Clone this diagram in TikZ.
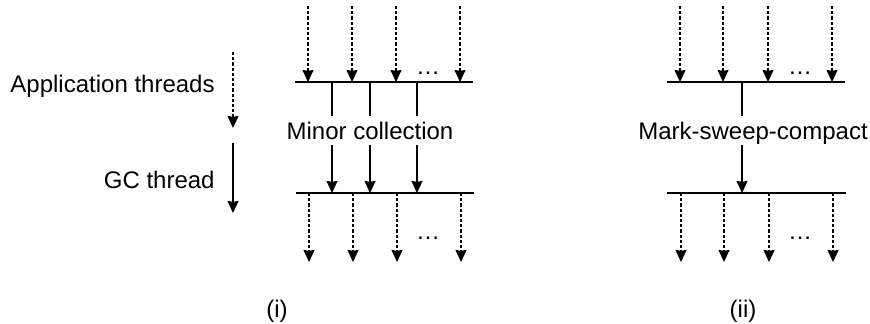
\documentclass[tikz,border=0pt]{standalone}
\usepackage{fontspec}
\setmainfont{Liberation Sans}
\usetikzlibrary{arrows.meta,positioning}
\tikzset{
  threadArrow/.style={
    -{Stealth[length=6pt,width=5.5pt,inset=0.4pt]},
    line width=0.65pt,
    dash pattern=on 1.6pt off 1pt
  },
  gcArrow/.style={
    -{Stealth[length=6pt,width=5.5pt,inset=0.4pt]},
    line width=0.75pt
  },
  gcLine/.style={
    line width=0.75pt
  },
  safepoint/.style={
    line width=0.75pt
  },
  caption/.style={
    font=\fontsize{12}{14}\selectfont,
    inner sep=0pt
  },
  phaseLabel/.style={
    font=\fontsize{12}{14}\selectfont,
    text height=8.6pt,
    text depth=0pt,
    inner sep=2.9pt,
    anchor=base
  },
  moreDots/.style={
    font=\fontsize{12}{14}\selectfont,
    inner sep=0pt,
    anchor=base
  }
}

\begin{document}
\begin{tikzpicture}[x=0.5pt,y=-0.5pt]
  \useasboundingbox (0,0) rectangle (870,323);
  \node[caption,anchor=base east] (appLabel) at (215,92) {Application threads};
  \node[caption,anchor=base east] (gcLabel) at (215,188) {GC thread};
  \coordinate (appTop) at (233,52);
  \coordinate (appBot) at (233,128);
  \coordinate (gcTop) at (233,143);
  \coordinate (gcBot) at (233,213);
  \draw[threadArrow] (appTop) -- (appBot);
  \draw[gcArrow] (gcTop) -- (gcBot);
  \coordinate (minorTopL) at (295,82);
  \coordinate (minorTopR) at (473,82);
  \coordinate (minorBotL) at (296,193);
  \coordinate (minorBotR) at (474,193);
  \draw[safepoint] (minorTopL) -- (minorTopR);
  \draw[safepoint] (minorBotL) -- (minorBotR);
  \foreach \x [count=\i] in {308,352,396,460} {
    \coordinate (minorIn\i) at (\x,6);
    \coordinate (minorOut\i) at (\x+1,262);
    \draw[threadArrow] (minorIn\i) -- (minorIn\i |- minorTopL);
    \draw[threadArrow] (minorOut\i |- minorBotL) -- (minorOut\i);
  }
  \node[phaseLabel] (minor) at (370,139) {Minor collection};
  \foreach \x [count=\i] in {332,370,417} {
    \coordinate (minorGc\i) at (\x,82);
    \draw[gcLine] (minorGc\i) -- (minorGc\i |- minor.north);
    \draw[gcArrow] (minorGc\i |- minor.south) -- (minorGc\i |- minorBotL);
  }
  \node[moreDots] (minorDotsIn) at (428,74) {…};
  \node[moreDots] (minorDotsOut) at (428,239) {…};
  \node[caption,anchor=base] (minorCap) at (277,317) {(i)};
  \coordinate (fullTopL) at (667,82);
  \coordinate (fullTopR) at (845,82);
  \coordinate (fullBotL) at (667,193);
  \coordinate (fullBotR) at (846,193);
  \draw[safepoint] (fullTopL) -- (fullTopR);
  \draw[safepoint] (fullBotL) -- (fullBotR);
  \foreach \x [count=\i] in {680,723,768,832} {
    \coordinate (fullIn\i) at (\x,6);
    \coordinate (fullOut\i) at (\x+1,262);
    \draw[threadArrow] (fullIn\i) -- (fullIn\i |- fullTopL);
    \draw[threadArrow] (fullOut\i |- fullBotL) -- (fullOut\i);
  }
  \node[phaseLabel] (full) at (753,139) {Mark-sweep-compact};
  \coordinate (fullGc) at (742,82);
  \draw[gcLine] (fullGc) -- (fullGc |- full.north);
  \draw[gcArrow] (fullGc |- full.south) -- (fullGc |- fullBotL);
  \node[moreDots] (fullDotsIn) at (800,74) {…};
  \node[moreDots] (fullDotsOut) at (800,239) {…};
  \node[caption,anchor=base] (fullCap) at (743,317) {(ii)};
\end{tikzpicture}
\end{document}
